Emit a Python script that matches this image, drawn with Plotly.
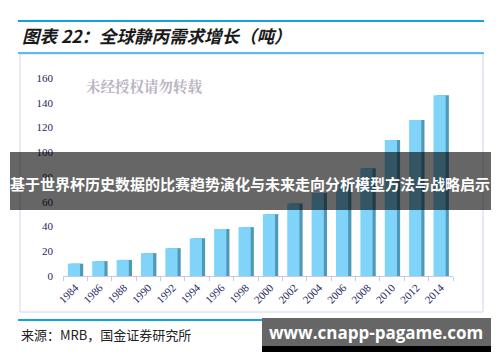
import plotly.graph_objects as go

years = ["1984", "1986", "1988", "1990", "1992", "1994", "1996", "1998",
         "2000", "2002", "2004", "2006", "2008", "2010", "2012", "2014"]
demand = [10, 12, 13, 18.5, 22.5, 30.5, 38, 39.5,
          50, 58.5, 67, 75, 87, 110, 126, 146]
y_ticks = [0, 20, 40, 60, 80, 100, 120, 140, 160]

title_text = "图表 22：全球静丙需求增长（吨）"
source_text = "来源：MRB，国金证券研究所"
watermark_text = "未经授权请勿转载"
banner_text = "基于世界杯历史数据的比赛趋势演化与未来走向分析模型方法与战略启示"
url_text = "www.cnapp-pagame.com"

W, H = 500, 362
def px(x): return x / W
def py(y): return 1 - y / H

fig = go.Figure()
# side (shadow) face for a 3D look
fig.add_trace(go.Bar(x=years, y=demand, marker=dict(color="#4f98b6", line=dict(width=0)),
                     width=0.5, offset=-0.17, hoverinfo="skip", showlegend=False))
# front face
fig.add_trace(go.Bar(x=years, y=demand, marker=dict(color="#80d4fa", line=dict(width=0)),
                     width=0.5, offset=-0.3, showlegend=False))

fig.update_layout(
    width=W, height=H, margin=dict(l=0, r=0, t=0, b=0, autoexpand=False),
    paper_bgcolor="white", plot_bgcolor="white",
    barmode="overlay", bargap=0.5,
    xaxis=dict(domain=[px(63), px(453)], type="category", automargin=False,
               tickangle=-45, tickson="boundaries", ticks="outside", ticklen=4,
               tickcolor="#c8c8e6", showline=True, linecolor="#c8c8e6",
               showgrid=False, tickfont=dict(family="Liberation Serif", size=11, color="#252560")),
    yaxis=dict(domain=[py(276), py(70)], range=[0, 166.5], tickvals=y_ticks, automargin=False,
               showgrid=False, zeroline=False, showline=False, ticks="",
               ticklabelstandoff=9,
               tickfont=dict(family="Liberation Serif", size=11, color="#252560")),
)

shapes = [
    dict(type="rect", xref="paper", yref="paper", x0=px(20), x1=px(483), y0=py(312), y1=py(54),
         line=dict(color="#d4d4ec", width=1), fillcolor="rgba(0,0,0,0)", layer="below"),
    dict(type="line", xref="paper", yref="paper", x0=px(18), x1=px(484), y0=py(21), y1=py(21),
         line=dict(color="#12a0e6", width=2)),
    dict(type="line", xref="paper", yref="paper", x0=px(18), x1=px(484), y0=py(53), y1=py(53),
         line=dict(color="#5cbcec", width=2)),
    dict(type="line", xref="paper", yref="paper", x0=px(18), x1=px(484), y0=py(320), y1=py(320),
         line=dict(color="#12a0e6", width=2)),
    dict(type="rect", xref="paper", yref="paper", x0=px(10), x1=px(491), y0=py(210), y1=py(152),
         line=dict(width=0), fillcolor="rgba(0,0,0,0.6)", layer="above"),
    dict(type="rect", xref="paper", yref="paper", x0=px(262), x1=px(491), y0=py(352), y1=py(318),
         line=dict(width=0), fillcolor="#000000", layer="above"),
    dict(type="rect", xref="paper", yref="paper", x0=px(262), x1=px(491), y0=py(346), y1=py(318),
         line=dict(width=0), fillcolor="#666666", layer="above"),
]
fig.update_layout(shapes=shapes)

ann = [
    dict(text="<b><i>" + title_text + "</i></b>", x=px(20), y=py(36), xanchor="left", yanchor="middle",
         font=dict(family="Noto Sans CJK SC", size=17.5, color="#1a1a1a")),
    dict(text="<b>" + watermark_text + "</b>", x=px(84), y=py(86), xanchor="left", yanchor="middle",
         font=dict(family="Noto Serif CJK SC, Noto Sans CJK SC", size=14.5, color="#bab3c2")),
    dict(text="<b>" + banner_text + "</b>", x=px(250), y=py(183), xanchor="center", yanchor="middle",
         font=dict(family="Noto Sans CJK SC", size=15, color="white")),
    dict(text=source_text, x=px(19), y=py(334), xanchor="left", yanchor="middle",
         font=dict(family="Noto Sans CJK SC", size=13, color="#222222")),
    dict(text="<b>" + url_text + "</b>", x=px(376), y=py(332), xanchor="center", yanchor="middle",
         font=dict(family="Open Sans", size=17, color="white")),
]
for a in ann:
    a.update(xref="paper", yref="paper", showarrow=False)
fig.update_layout(annotations=ann)

fig.write_html("out.html", config={"displayModeBar": False},
               post_script="document.body.style.margin='0';document.body.style.padding='0';")
